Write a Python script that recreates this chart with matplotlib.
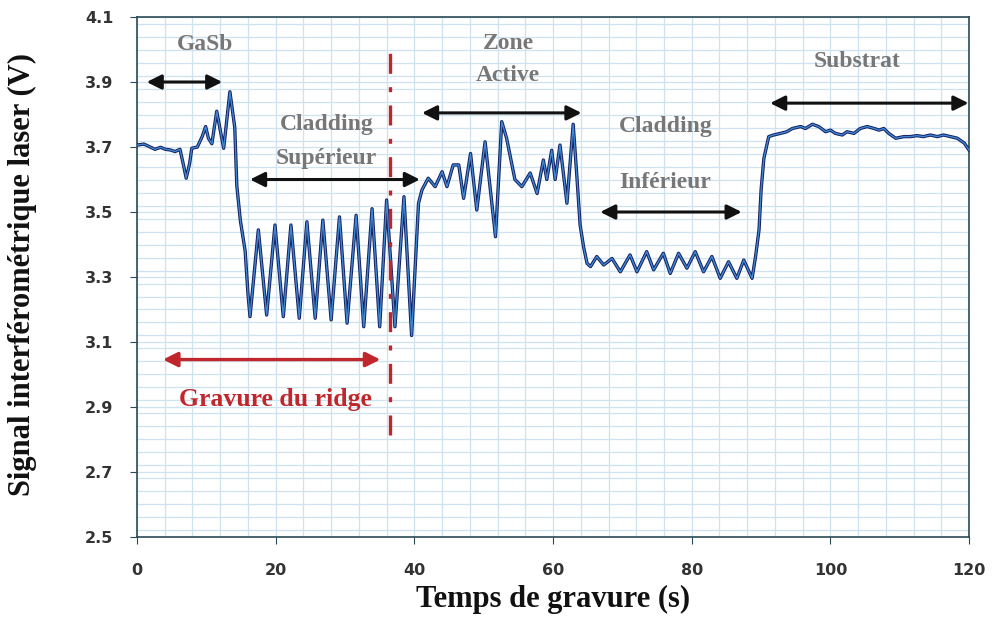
import matplotlib
matplotlib.use("Agg")
import matplotlib.pyplot as plt
from matplotlib.ticker import MultipleLocator

# ---- data ----
time_s = [0.0, 1.0, 1.9, 2.6, 3.4, 4.1, 4.8, 5.5, 6.2, 6.7, 7.1, 7.6, 7.9, 8.7, 9.4, 9.9,
          10.3, 10.8, 11.5, 12.5, 13.4, 14.1, 14.4, 14.9, 15.6, 16.0, 16.3,
          17.5, 18.7, 19.9, 21.1, 22.2, 23.4, 24.5, 25.7, 26.8, 28.0, 29.2, 30.3,
          31.6, 32.7, 33.9, 35.0, 36.0, 37.2, 38.5, 39.6,
          40.6, 41.1, 42.0, 43.0, 44.0, 44.7, 45.6, 46.4, 47.1, 48.1, 49.0, 50.2,
          51.7, 52.6, 53.3, 54.5, 55.5, 56.7, 57.7, 58.6, 59.1, 59.8, 60.3, 61.0,
          62.0, 62.9, 63.4, 63.9, 64.4, 64.9, 65.4, 66.3, 67.3, 68.5, 69.7, 71.1,
          72.1, 73.5, 74.5, 75.9, 76.9, 78.1, 79.3, 80.5, 81.7, 82.9, 84.1, 85.3,
          86.5, 87.5, 88.7, 89.2, 89.7, 90.0, 90.4, 91.1, 91.8, 92.8, 93.7, 94.5,
          95.7, 96.4, 97.4, 98.3, 99.3, 100.0, 100.7, 101.7, 102.4, 103.4, 104.3,
          105.3, 106.3, 107.0, 107.7, 108.4, 109.4, 110.6, 111.5, 112.5, 113.4,
          114.4, 115.4, 116.3, 117.3, 118.3, 119.3, 120.0]
signal_v = [3.706, 3.709, 3.700, 3.693, 3.699, 3.693, 3.691, 3.686, 3.693, 3.645, 3.604,
            3.650, 3.696, 3.700, 3.732, 3.763, 3.727, 3.710, 3.810, 3.696, 3.870, 3.760,
            3.580, 3.475, 3.380, 3.250, 3.178,
            3.445, 3.183, 3.460, 3.178, 3.460, 3.173, 3.470, 3.173, 3.475, 3.168, 3.485,
            3.158, 3.490, 3.147, 3.510, 3.147, 3.537, 3.147, 3.547, 3.120,
            3.527, 3.568, 3.604, 3.578, 3.624, 3.578, 3.645, 3.645, 3.542, 3.680, 3.506,
            3.716, 3.424, 3.778, 3.727, 3.600, 3.578, 3.620, 3.557, 3.660, 3.600, 3.690,
            3.600, 3.706, 3.527, 3.770, 3.620, 3.460, 3.393, 3.342, 3.332, 3.363, 3.337,
            3.357, 3.316, 3.368, 3.316, 3.378, 3.322, 3.373, 3.311, 3.373, 3.327, 3.378,
            3.316, 3.363, 3.296, 3.347, 3.296, 3.352, 3.296, 3.363, 3.445, 3.568, 3.665,
            3.732, 3.737, 3.742, 3.747, 3.757, 3.763, 3.757, 3.770, 3.763, 3.747, 3.752,
            3.742, 3.737, 3.747, 3.742, 3.757, 3.763, 3.757, 3.752, 3.757, 3.742, 3.727,
            3.732, 3.732, 3.735, 3.732, 3.737, 3.732, 3.737, 3.732, 3.727, 3.712, 3.690]

x_ticks = [0, 20, 40, 60, 80, 100, 120]
y_ticks = [2.5, 2.7, 2.9, 3.1, 3.3, 3.5, 3.7, 3.9, 4.1]
y_tick_labels = ["2.5", "2.7", "2.9", "3.1", "3.3", "3.5", "3.7", "3.9", "4.1"]

# region annotations: (label, x, y)
region_labels = [("GaSb", 9.8, 4.014), ("Cladding", 27.3, 3.768), ("Supérieur", 27.3, 3.666),
                 ("Zone", 53.5, 4.02), ("Active", 53.5, 3.92), ("Cladding", 76.2, 3.762),
                 ("Inférieur", 76.2, 3.592), ("Substrat", 103.9, 3.962)]
# double arrows: (x_start, x_end, y)
region_arrows = [(1.4, 12.3, 3.90), (16.3, 40.8, 3.60), (41.1, 64.1, 3.805),
                 (66.8, 87.2, 3.50), (91.3, 119.9, 3.835)]
ridge_arrow = (3.75, 35.1, 3.046)
ridge_label = ("Gravure du ridge", 19.9, 2.922)
ridge_line_x = 36.5
ridge_line_y = (2.814, 4.005)

serif = ["Liberation Serif", "DejaVu Serif"]

fig = plt.figure(figsize=(9.94, 6.19), dpi=100)
ax = fig.add_axes([0.1378, 0.1325, 0.9750 - 0.1378, 0.9725 - 0.1325])

ax.set_xlim(0, 120)
ax.set_ylim(2.5, 4.1)

ax.xaxis.set_minor_locator(MultipleLocator(4))
ax.yaxis.set_minor_locator(MultipleLocator(0.04))
ax.grid(which="both", color="#cfe2ef", linewidth=0.9)
ax.set_axisbelow(True)

ax.set_xticks(x_ticks)
ax.set_yticks(y_ticks)
ax.set_yticklabels(y_tick_labels)
ax.tick_params(which="minor", length=0)
ax.tick_params(which="major", direction="out", length=5, color="#2b4a55", labelsize=11.5)
ax.tick_params(axis="y", pad=12)
ax.tick_params(axis="x", pad=14)
for lab in ax.get_xticklabels() + ax.get_yticklabels():
    lab.set_fontweight("bold")
    lab.set_family(["DejaVu Sans"])
    lab.set_color("#333333")
for sp in ax.spines.values():
    sp.set_color("#2b4a55")
    sp.set_linewidth(1.2)

ax.plot(time_s, signal_v, color="#14205e", linewidth=2.4, zorder=3)
ax.plot(time_s, signal_v, color="#3f86d4", linewidth=1.0, zorder=4)

for text, x, y in region_labels:
    ax.text(x, y, text, ha="center", va="center", fontsize=17, fontweight="bold",
            color="#777777", family=serif, zorder=5)
for x0, x1, y in region_arrows:
    ax.annotate("", xy=(x1, y), xytext=(x0, y),
                arrowprops=dict(arrowstyle="<|-|>", color="#111111", lw=2.2,
                                mutation_scale=22, shrinkA=0, shrinkB=0), zorder=5)

ax.annotate("", xy=(ridge_arrow[1], ridge_arrow[2]), xytext=(ridge_arrow[0], ridge_arrow[2]),
            arrowprops=dict(arrowstyle="<|-|>", color="#c0272d", lw=2.4,
                            mutation_scale=22, shrinkA=0, shrinkB=0), zorder=5)
ax.text(ridge_label[1], ridge_label[2], ridge_label[0], ha="center", va="center",
        fontsize=18.5, fontweight="bold", color="#c0272d", family=serif, zorder=5)
ax.plot([ridge_line_x, ridge_line_x], list(ridge_line_y), color="#c0272d",
        linewidth=2.4, linestyle=(0, (6, 4, 1.5, 4)), zorder=6)

ax.set_xlabel("Temps de gravure (s)", fontsize=22, fontweight="bold", family=serif,
              color="#111111", va="center")
ax.set_ylabel("Signal interférométrique laser (V)", fontsize=22, fontweight="bold",
              family=serif, color="#111111", va="center")
ax.xaxis.set_label_coords(0.5, -0.121)
ax.yaxis.set_label_coords(-0.138, 0.505)

fig.savefig("out.png", dpi=100, facecolor="white")
